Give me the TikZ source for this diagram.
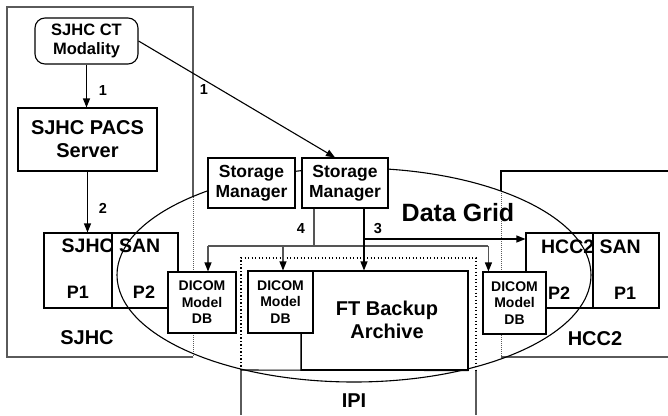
\documentclass[tikz,border=0pt]{standalone}
\usepackage{fontspec}
\setmainfont{Liberation Sans}
\usetikzlibrary{arrows.meta}
\definecolor{sitegray}{HTML}{5A5A5A}
\definecolor{linegray}{HTML}{555555}
\tikzset{
  bx/.style={draw=black, line width=1.1pt, fill=white, inner sep=0pt, align=center},
  sanbox/.style={draw=black, line width=1.1pt, inner sep=0pt},
  sitebox/.style={draw=sitegray, line width=1.1pt},
  sitedot/.style={draw=sitegray, line width=0.8pt, dash pattern=on 0.9pt off 1.1pt},
  ipidot/.style={draw=black, line width=1.3pt, dash pattern=on 1.3pt off 2.2pt},
  arr/.style={line width=1.1pt, -{Triangle[length=9pt,width=7pt,color=black]}},
  fnum/.style={font=\fontsize{14.5}{16}\selectfont\bfseries, inner sep=0pt},
  fbig/.style={font=\fontsize{19.5}{23}\selectfont\bfseries, inner sep=0pt, align=center},
  fmid/.style={font=\fontsize{17.5}{20}\selectfont\bfseries, align=center},
  fsmall/.style={font=\fontsize{14}{16.5}\selectfont\bfseries, align=center},
}
\begin{document}
\begin{tikzpicture}[x=1pt,y=-1pt]
\useasboundingbox (0,0) rectangle (668,415);
% site boxes
\draw[sitebox] (193,197) -- (193,7) -- (7,7) -- (7,357) -- (193,357);
\draw[sitedot] (193,197) -- (193,357);
\draw[sitebox, draw=black] (668,171) -- (501,171) -- (501,191);
\draw[sitedot] (501,191) -- (501,357);
\draw[sitebox] (501,357) -- (668,357);
\draw[sitebox] (241,370) -- (241,415);
\draw[sitebox] (476,370) -- (476,415);
\draw[ipidot] (241,370) -- (241,258) -- (476,258) -- (476,370);
% data grid ellipse
\draw[line width=1.1pt] (354,275) ellipse [x radius=237, y radius=107];
% SJHC
\node[bx, rounded corners=10pt, minimum width=103pt, minimum height=46pt,
      font=\fontsize{16.5}{19}\selectfont\bfseries] (ct) at (86.5,41) {SJHC CT\\Modality};
\node[bx, minimum width=139pt, minimum height=63pt,
      font=\fontsize{20}{23}\selectfont\bfseries] (pacs) at (87.5,139.5) {SJHC PACS\\Server};
\node[sanbox, minimum width=68pt, minimum height=75pt] (sjsan1) at (78,270.5) {};
\node[sanbox, minimum width=66pt, minimum height=75pt] (sjsan2) at (145,270.5) {};
\node[fbig] (sjsanlbl) at (111,246) {SJHC SAN};
\node[fmid, font=\fontsize{18}{20}\selectfont\bfseries, inner sep=0pt] (sjp1) at (78,292) {P1};
\node[fmid, font=\fontsize{18}{20}\selectfont\bfseries, inner sep=0pt] (sjp2) at (144,292) {P2};
\node[fbig, font=\fontsize{20}{23}\selectfont\bfseries] (sjhc) at (87,338) {SJHC};
% HCC2
\node[sanbox, minimum width=67pt, minimum height=75pt] (hcsan2) at (559.5,270.5) {};
\node[sanbox, minimum width=66pt, minimum height=75pt] (hcsan1) at (626,270.5) {};
\node[fbig] (hcsanlbl) at (591,247) {HCC2 SAN};
\node[fmid, font=\fontsize{18}{20}\selectfont\bfseries, inner sep=0pt] (hcp2) at (559,293) {P2};
\node[fmid, font=\fontsize{18}{20}\selectfont\bfseries, inner sep=0pt] (hcp1) at (625,293) {P1};
\node[fbig, font=\fontsize{20}{23}\selectfont\bfseries] (hcc) at (595,339) {HCC2};
% storage managers
\node[bx, fmid, minimum width=87pt, minimum height=50pt] (sm1) at (251.5,183) {Storage\\Manager};
\node[bx, fmid, minimum width=86pt, minimum height=50pt] (sm2) at (345,183) {Storage\\Manager};
\node[font=\fontsize{25}{28}\selectfont\bfseries, inner sep=0pt] (dg) at (458,213) {Data Grid};
% IPI
\node[bx, minimum width=167pt, minimum height=99pt] (ft) at (384.5,320.5) {};
\node[fbig, font=\fontsize{20}{23}\selectfont\bfseries] (ftlbl) at (387,320) {FT Backup\\Archive};
\draw[sitebox] (ft.north west) -- (ft.south west);
\draw[line width=1.1pt] (241,370) -- (ft.south east);
\node[fbig, font=\fontsize{20}{23}\selectfont\bfseries] (ipi) at (354,401) {IPI};
% DICOM DBs
\node[bx, fsmall, minimum width=68pt, minimum height=61pt] (d1) at (202,302.5) {DICOM\\Model\\DB};
\node[bx, fsmall, minimum width=65pt, minimum height=62pt] (d2) at (280.5,302) {DICOM\\Model\\DB};
\node[bx, fsmall, minimum width=63pt, minimum height=62pt] (d3) at (514.5,303) {DICOM\\Model\\DB};
% connectors
\draw[arr] (ct.south) -- (ct.south |- pacs.north);
\node[fnum] (n1a) at (103,91) {1};
\draw[arr] (ct.east) -- ([xshift=-10pt]sm2.north);
\node[fnum] (n1b) at (204,90) {1};
\draw[arr] (pacs.south) -- (pacs.south |- sjsan1.north);
\node[fnum] (n2) at (103,208) {2};
% path 4
\coordinate (j4) at (314,246);
\draw[line width=1.1pt, draw=linegray] (sm2.south -| j4) -- (j4);
\draw[line width=1.1pt, draw=linegray] ([xshift=6pt]d1.north |- j4) -- ([xshift=6pt]d3.north west |- j4);
\draw[arr, draw=linegray] ([xshift=6pt]d1.north |- j4) -- ([xshift=6pt]d1.north);
\draw[arr, draw=linegray] ([xshift=2.5pt]d2.north |- j4) -- ([xshift=2.5pt]d2.north);
\draw[arr, draw=linegray] ([xshift=6pt]d3.north west |- j4) -- ([xshift=6pt]d3.north west);
\node[fnum] (n4) at (301,229) {4};
% path 3
\coordinate (j3) at (364,239);
\draw[arr] (sm2.south -| j3) -- (j3 |- ft.north);
\draw[arr] (j3) -- (j3 -| hcsan2.west);
\node[fnum] (n3) at (378,229) {3};
\end{tikzpicture}
\end{document}
